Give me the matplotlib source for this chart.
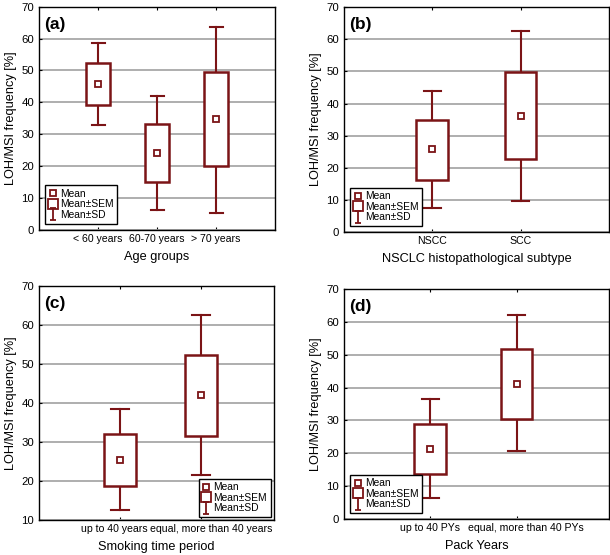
import numpy as np
import matplotlib.pyplot as plt
from matplotlib.lines import Line2D
from matplotlib.patches import Rectangle
from matplotlib.path import Path

plt.rcParams['font.family'] = ['Liberation Sans', 'DejaVu Sans']

# panel (a) - age groups
a_cats = ['< 60 years', '60-70 years', '> 70 years']
a_mean = [45.8, 24.0, 34.6]
a_sem_lo = [39.3, 14.9, 19.9]
a_sem_hi = [52.4, 33.2, 49.4]
a_sd_lo = [33.0, 6.1, 5.4]
a_sd_hi = [58.6, 41.9, 63.7]

# panel (b) - histopathological subtype
b_cats = ['NSCC', 'SCC']
b_mean = [25.7, 36.2]
b_sem_lo = [16.1, 22.6]
b_sem_hi = [35.0, 49.8]
b_sd_lo = [7.4, 9.7]
b_sd_hi = [44.0, 62.7]

# panel (c) - smoking time period
c_cats = ['up to 40 years', 'equal, more than 40 years']
c_mean = [25.4, 42.0]
c_sem_lo = [18.7, 31.6]
c_sem_hi = [32.0, 52.3]
c_sd_lo = [12.6, 21.5]
c_sd_hi = [38.4, 62.4]

# panel (d) - pack years
d_cats = ['up to 40 PYs', 'equal, more than 40 PYs']
d_mean = [21.4, 41.2]
d_sem_lo = [13.8, 30.5]
d_sem_hi = [29.0, 51.7]
d_sd_lo = [6.4, 20.6]
d_sd_hi = [36.5, 62.0]

col = '#7b1416'

# "I" marker for the legend
sd_path = Path([(-0.5, -1), (0.5, -1), (0, -1), (0, 1), (-0.5, 1), (0.5, 1)],
               [Path.MOVETO, Path.LINETO, Path.MOVETO, Path.LINETO, Path.MOVETO, Path.LINETO])


def panel(ax, cats, mean, sem_lo, sem_hi, sd_lo, sd_hi, tag, xlabel, xlim, ylim, bw, loc,
          shifts=None):
    x = np.arange(1, len(cats) + 1)
    for i in range(len(cats)):
        # whiskers (SD)
        ax.plot([x[i], x[i]], [sd_hi[i], sem_hi[i]], color=col, lw=1.5, zorder=3)
        ax.plot([x[i], x[i]], [sem_lo[i], sd_lo[i]], color=col, lw=1.5, zorder=3)
        ax.plot([x[i] - bw * 0.27, x[i] + bw * 0.27], [sd_hi[i]] * 2, color=col, lw=1.5, zorder=3)
        ax.plot([x[i] - bw * 0.27, x[i] + bw * 0.27], [sd_lo[i]] * 2, color=col, lw=1.5, zorder=3)
        # box (SEM)
        ax.add_patch(Rectangle((x[i] - bw / 2, sem_lo[i]), bw, sem_hi[i] - sem_lo[i],
                               facecolor='white', edgecolor=col, lw=1.8, zorder=3))
        ax.plot(x[i], mean[i], 's', ms=4, mfc='white', mec=col, mew=1.3, zorder=4)
    ax.set_xlim(*xlim)
    ax.set_ylim(*ylim)
    ax.set_xticks(x)
    ax.set_xticklabels([])
    # category labels drawn by hand so crowded ones can be nudged sideways (pixels)
    if shifts is None:
        shifts = [0] * len(cats)
    for xi, c, dx in zip(x, cats, shifts):
        ax.annotate(c, xy=(xi, 0), xycoords=('data', 'axes fraction'), xytext=(dx, -4),
                    textcoords='offset pixels', ha='center', va='top', fontsize=7.6)
    ax.set_yticks(np.arange(ylim[0], ylim[1] + 1, 10))
    ax.tick_params(axis='y', labelsize=8.2, direction='in', length=2)
    ax.tick_params(axis='x', direction='in', length=2, top=True, pad=5)
    ax.yaxis.grid(True, color='#a8a8a8', lw=1.3)
    ax.set_axisbelow(True)
    ax.set_ylabel('LOH/MSI frequency [%]', fontsize=9.2, labelpad=3)
    ax.set_xlabel(xlabel, fontsize=9.2, labelpad=10)
    ax.text(0.02, 0.955, tag, transform=ax.transAxes, fontsize=12.5, fontweight='bold',
            va='top', ha='left')
    for s in ax.spines.values():
        s.set_linewidth(1.0)
    handles = [
        Line2D([], [], ls='none', marker='s', ms=4, mfc='white', mec=col, mew=1.3),
        Line2D([], [], ls='none', marker='s', ms=7, mfc='white', mec=col, mew=1.3),
        Line2D([], [], ls='none', marker=sd_path, ms=8, mec=col, mew=1.3),
    ]
    leg = ax.legend(handles, ['Mean', 'Mean\u00b1SEM', 'Mean\u00b1SD'], loc=loc, fontsize=7.4,
                    fancybox=False, framealpha=1, edgecolor='black', handlelength=0.8,
                    handletextpad=0.3, labelspacing=0.05, borderpad=0.35,
                    borderaxespad=0.3 if loc == 'lower right' else 0.6)
    leg.get_frame().set_linewidth(1.0)


fig = plt.figure(figsize=(6.1, 5.55), dpi=100)

ax1 = fig.add_axes([0.064, 0.586, 0.387, 0.402])
panel(ax1, a_cats, a_mean, a_sem_lo, a_sem_hi, a_sd_lo, a_sd_hi, '(a)', 'Age groups',
      (0, 4), (0, 70), 0.41, 'lower left')

ax2 = fig.add_axes([0.564, 0.582, 0.434, 0.405])
panel(ax2, b_cats, b_mean, b_sem_lo, b_sem_hi, b_sd_lo, b_sd_hi, '(b)', 'NSCLC histopathological subtype',
      (0, 3), (0, 70), 0.36, 'lower left')

ax3 = fig.add_axes([0.064, 0.063, 0.385, 0.422])
panel(ax3, c_cats, c_mean, c_sem_lo, c_sem_hi, c_sd_lo, c_sd_hi, '(c)', 'Smoking time period',
      (0, 2.9), (10, 70), 0.39, 'lower right', shifts=[-6, 10])

ax4 = fig.add_axes([0.564, 0.065, 0.434, 0.414])
panel(ax4, d_cats, d_mean, d_sem_lo, d_sem_hi, d_sd_lo, d_sd_hi, '(d)', 'Pack Years',
      (0, 3.07), (0, 70), 0.37, 'lower left', shifts=[0, 9])

fig.savefig('out.png', dpi=100)
